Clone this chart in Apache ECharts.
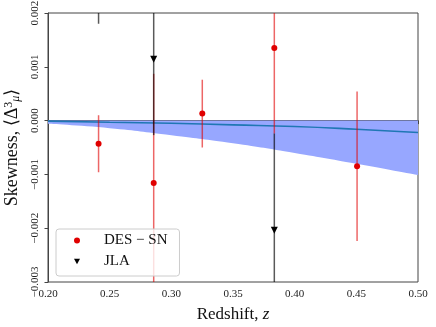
<!DOCTYPE html>
<html>
<head>
<meta charset="utf-8">
<script src="https://cdn.jsdelivr.net/npm/echarts@6/dist/echarts.min.js"></script>
<style>
  html, body { margin: 0; padding: 0; background: #fff; }
  #chart { width: 436px; height: 327px; }
</style>
</head>
<body>
<div id="chart"></div>
<script>
// DES-SN points
var desZ = [0.241, 0.2857, 0.3251, 0.3835, 0.4506];
var desSkew = [-0.00043, -0.00116, 0.00013, 0.00135, -0.00085];
var desErr = [0.00053, 0.00203, 0.00063, 0.00159, 0.00139];
// JLA points
var jlaZ = [0.241, 0.2857, 0.3835];
var jlaSkew = [0.0032, 0.00114, -0.00204];
var jlaErr = [0.0014, 0.00141, 0.0018];
// model curve + band
var modelZ = [0.20, 0.25, 0.30, 0.35, 0.40, 0.45, 0.50];
var modelMean = [-0.00001, -0.00003, -0.00005, -0.00008, -0.00011, -0.00016, -0.00022];
var bandLower = [-0.00006, -0.00014, -0.00027, -0.00042, -0.00060, -0.00080, -0.00101];

var FONT = "Liberation Serif";
var TRI_DOWN = 'path://M0,0 L10,0 L5,9 Z';

function pairs(xs, ys) {
  return xs.map(function (x, i) { return [x, ys[i]]; });
}
function triples(xs, ys, es) {
  return xs.map(function (x, i) { return [x, ys[i], es[i]]; });
}
function errBar(color) {
  return function (params, api) {
    var cs = params.coordSys;
    var x = api.value(0), y = api.value(1), e = api.value(2);
    var p1 = api.coord([x, y + e]);
    var p2 = api.coord([x, y - e]);
    var top = Math.max(p1[1], cs.y);
    var bot = Math.min(p2[1], cs.y + cs.height);
    if (bot <= top) return null;
    return {
      type: 'line',
      shape: { x1: p1[0], y1: top, x2: p2[0], y2: bot },
      style: { stroke: color, lineWidth: 1.5 }
    };
  };
}
function yFmt(v) {
  var s = Math.abs(v).toFixed(3);
  return v < -1e-9 ? '\u2212' + s : s;
}

var chart = echarts.init(document.getElementById('chart'));
chart.setOption({
  animation: false,
  grid: {
    left: 48, right: 18, top: 13, bottom: 45,
    outerBoundsMode: 'none', containLabel: false,
    show: true, borderColor: '#444', borderWidth: 1
  },
  legend: {
    left: 56, top: 229,
    orient: 'vertical',
    data: ['DES \u2212 SN', 'JLA'],
    itemWidth: 6, itemHeight: 6, itemGap: 6,
    padding: [4, 12, 7, 18],
    borderColor: '#ccc', borderWidth: 1, borderRadius: 3,
    backgroundColor: 'rgba(255,255,255,0.8)',
    textStyle: { fontFamily: FONT, fontSize: 15, color: '#111', lineHeight: 14, padding: [0, 0, 0, 19] }
  },
  xAxis: {
    type: 'value', min: 0.2, max: 0.5, interval: 0.05,
    name: 'Redshift, {i|z}', nameLocation: 'middle', nameGap: 24,
    nameTextStyle: {
      fontFamily: FONT, fontSize: 17, color: '#111',
      rich: { i: { fontFamily: FONT, fontSize: 17, fontStyle: 'italic', color: '#111' } }
    },
    axisLine: { lineStyle: { color: '#444' } },
    axisTick: { show: true, inside: false, length: 3.5, lineStyle: { color: '#444' } },
    axisLabel: {
      fontFamily: FONT, fontSize: 11, color: '#222', margin: 7,
      formatter: function (v) { return v.toFixed(2); }
    },
    splitLine: { show: false }
  },
  yAxis: {
    type: 'value', min: -0.003, max: 0.002, interval: 0.001,
    name: '{t|Skewness, \u27e8\u0394}{sup|3}{sub|\u03bc}{t|\u27e9}',
    nameLocation: 'middle', nameGap: 26, nameRotate: 90,
    nameTextStyle: {
      fontFamily: FONT, fontSize: 18, color: '#111',
      rich: {
        t: { fontFamily: FONT, fontSize: 18, color: '#111' },
        sup: { fontFamily: FONT, fontSize: 12, color: '#111', verticalAlign: 'top', padding: [0, 0, 7, 0] },
        sub: { fontFamily: FONT, fontSize: 12, fontStyle: 'italic', color: '#111', verticalAlign: 'bottom', padding: [7, 0, 0, 0] }
      }
    },
    axisLine: { show: true, lineStyle: { color: '#444' } },
    axisTick: { show: true, inside: false, length: 3.5, lineStyle: { color: '#444' } },
    axisLabel: {
      fontFamily: FONT, fontSize: 11, color: '#222', margin: 7, rotate: 90,
      formatter: yFmt
    },
    splitLine: { show: false }
  },
  series: [
    {
      type: 'line', data: pairs(modelZ, bandLower), smooth: true,
      symbol: 'none', lineStyle: { width: 0 },
      areaStyle: { color: '#97a7ff', opacity: 1 }, z: 1, silent: true
    },
    {
      type: 'line', data: pairs(modelZ, modelMean), smooth: true,
      symbol: 'none', lineStyle: { color: '#1f77b4', width: 1.6 }, z: 2, silent: true
    },
    {
      type: 'custom', data: triples(desZ, desSkew, desErr),
      renderItem: errBar('rgba(225,0,0,0.6)'), z: 3, silent: true
    },
    {
      type: 'custom', data: triples(jlaZ, jlaSkew, jlaErr),
      renderItem: errBar('rgba(0,0,0,0.65)'), z: 3, silent: true
    },
    {
      name: 'DES \u2212 SN', type: 'scatter', data: pairs(desZ, desSkew),
      symbol: 'circle', symbolSize: 6, itemStyle: { color: '#e00000', opacity: 1 }, z: 4
    },
    {
      name: 'JLA', type: 'scatter', data: pairs(jlaZ, jlaSkew),
      symbol: TRI_DOWN, symbolSize: [7, 7],
      itemStyle: { color: '#000', opacity: 1 }, z: 4
    }
  ]
});
</script>
</body>
</html>
